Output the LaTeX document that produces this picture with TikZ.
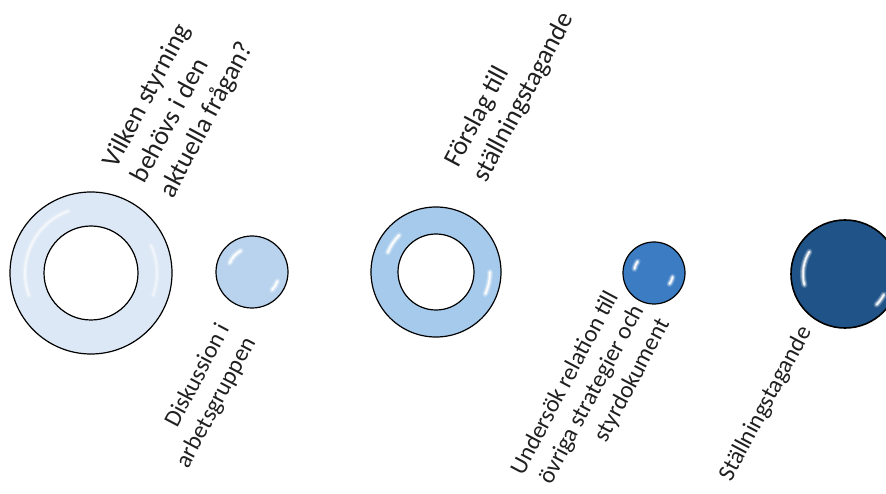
\documentclass[tikz,border=0pt]{standalone}
\usepackage{fontspec}
\setmainfont{Carlito}
\definecolor{txt}{HTML}{202020}
\definecolor{ringA}{HTML}{DCE8F5}
\definecolor{ballB}{HTML}{B9D3EE}
\definecolor{ringC}{HTML}{A6CAEC}
\definecolor{ballD}{HTML}{3B7CC2}
\definecolor{ballE}{HTML}{205488}
\colorlet{rimin}{white}
\colorlet{rimout}{white}
\pgfdeclareradialshading[rimin,rimout]{rim}{\pgfpoint{0bp}{0bp}}{color(0bp)=(rimin); color(38bp)=(rimin); color(50bp)=(rimout)}
\newcommand\glint[6]{%
  \draw[white, line width=6pt, opacity=0.25*#6, line cap=round] (#1,#2) ++(#4:#3) arc[start angle=#4, end angle=#5, radius=#3];
  \draw[white, line width=3.5pt, opacity=0.45*#6, line cap=round] (#1,#2) ++(#4:#3) arc[start angle=#4, end angle=#5, radius=#3];
  \draw[white, line width=1.6pt, opacity=0.9*#6, line cap=round] (#1,#2) ++(#4:#3) arc[start angle=#4, end angle=#5, radius=#3];}
\tikzset{
  lbl/.style={text=txt, rotate=62, inner sep=0pt},
  toplbl/.style={lbl, font=\fontsize{26.5}{32}\selectfont, align=left},
  botlbl/.style={lbl, font=\fontsize{24}{29}\selectfont, align=right},
  edge/.style={draw=black, line width=1.2pt}
}
\begin{document}
\begin{tikzpicture}[x=1pt,y=-1pt]
\useasboundingbox (0,0) rectangle (886,494);
% ring 1
\begin{scope}
\colorlet{rimin}{ringA}\colorlet{rimout}{ringA!85!blue!60!ringA}
\shade[shading=rim, even odd rule] (91,273) circle[radius=81] (91,273) circle[radius=47];
\end{scope}
\glint{91}{273}{66}{-110}{-200}{0.6}
\glint{91}{273}{66}{-25}{20}{0.5}
\draw[edge] (91,273) circle[radius=81] (91,273) circle[radius=47];
% ball 2
\begin{scope}
\colorlet{rimin}{ballB}\colorlet{rimout}{ballB!80!black}
\shade[shading=rim] (252,272) circle[radius=36];
\end{scope}
\glint{252}{272}{24}{-118}{-158}{1}
\glint{252}{272}{27}{20}{42}{1}
\draw[edge] (252,272) circle[radius=36];
% ring 3
\begin{scope}
\colorlet{rimin}{ringC}\colorlet{rimout}{ringC!85!black}
\shade[shading=rim, even odd rule] (436,272) circle[radius=65] (436,272) circle[radius=38];
\end{scope}
\glint{436}{272}{52}{-135}{-158}{1}
\glint{436}{272}{54}{0}{24}{1}
\draw[edge] (436,272) circle[radius=65] (436,272) circle[radius=38];
% ball 4
\begin{scope}
\colorlet{rimin}{ballD}\colorlet{rimout}{ballD!70!black}
\shade[shading=rim] (654,273) circle[radius=31];
\end{scope}
\glint{654}{273}{20}{-145}{-168}{1}
\glint{654}{273}{19}{12}{35}{1}
\draw[edge] (654,273) circle[radius=31];
% ball 5
\begin{scope}
\colorlet{rimin}{ballE}\colorlet{rimout}{ballE!60!black}
\shade[shading=rim] (845,274) circle[radius=54];
\end{scope}
\glint{845}{274}{42}{-148}{-195}{1}
\glint{845}{274}{44}{28}{44}{1}
\draw[edge, line width=1.6pt] (845,274) circle[radius=54];
% labels
\node[toplbl] (t1) at (179,105) {Vilken styrning\\behövs i den\\aktuella frågan?};
\node[toplbl] (t2) at (510,90) {Förslag till\\ställningstagande};
\node[botlbl] (t3) at (204,396) {Diskussion i\\arbetsgruppen};
\node[botlbl] (t4) at (591,397) {Undersök relation till\\övriga strategier och\\styrdokument};
\node[botlbl] (t5) at (766,404) {Ställningstagande};
\end{tikzpicture}
\end{document}
